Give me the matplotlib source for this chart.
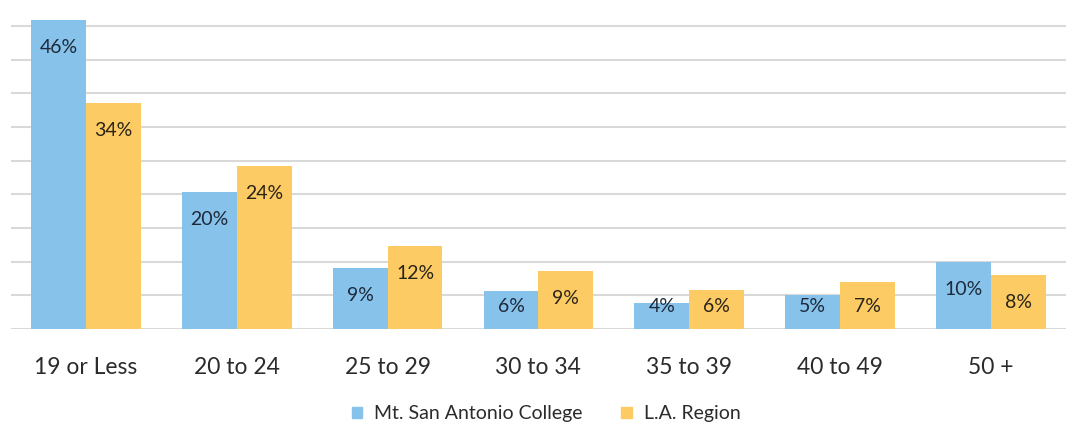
import matplotlib
matplotlib.use("Agg")
import matplotlib.pyplot as plt
import numpy as np
from matplotlib.patches import Patch

categories = ["19 or Less", "20 to 24", "25 to 29", "30 to 34", "35 to 39", "40 to 49", "50 +"]
mtsac = [45.9, 20.3, 9.1, 5.6, 3.9, 5.0, 9.9]
la_region = [33.6, 24.2, 12.3, 8.6, 5.8, 7.0, 8.0]
mtsac_labels = ["46%", "20%", "9%", "6%", "4%", "5%", "10%"]
la_labels = ["34%", "24%", "12%", "9%", "6%", "7%", "8%"]
series_names = ["Mt. San Antonio College", "L.A. Region"]

blue = "#87C2EB"
yellow = "#FDCB63"
font = ["Lato", "DejaVu Sans"]

fig = plt.figure(figsize=(10.76, 4.30), dpi=100)
ax = fig.add_axes([10.6/1076, (430-329)/430, 1055.6/1076, (329-16)/430])

x = np.arange(len(categories))
w = 0.364
ax.bar(x - w/2, mtsac, w, color=blue, zorder=2)
ax.bar(x + w/2, la_region, w, color=yellow, zorder=2)

for xi, v, lab in zip(x, mtsac, mtsac_labels):
    ax.text(xi - w/2, max(v - 4.1, 3.4), lab, ha="center", va="center",
            fontsize=14, color="#1d2a3a", family=font, zorder=3)
for xi, v, lab in zip(x, la_region, la_labels):
    ax.text(xi + w/2, max(v - 4.1, 3.4), lab, ha="center", va="center",
            fontsize=14, color="#2a2418", family=font, zorder=3)

ax.set_xlim(-0.5, len(categories) - 0.5)
ax.set_ylim(0, 46.5)
ax.set_yticks(np.arange(0, 46, 5))
ax.yaxis.grid(True, color="#d9d9d9", linewidth=1.5, zorder=0)
ax.set_axisbelow(True)
ax.tick_params(axis="y", left=False, labelleft=False)
ax.tick_params(axis="x", bottom=False, pad=17)
ax.set_xticks(x)
ax.set_xticklabels(categories, fontsize=16.5, color="#2b2b2b", family=font)
for s in ax.spines.values():
    s.set_visible(False)

handles = [Patch(color=blue), Patch(color=yellow)]
fig.legend(handles, series_names, loc="center", bbox_to_anchor=(546/1076, (430-414)/430),
           ncol=2, frameon=False, prop={"family": font, "size": 14},
           handlelength=0.55, handleheight=0.55, handletextpad=0.6, columnspacing=2.0,
           labelcolor="#2b2b2b")

fig.savefig("out.png", dpi=100)
